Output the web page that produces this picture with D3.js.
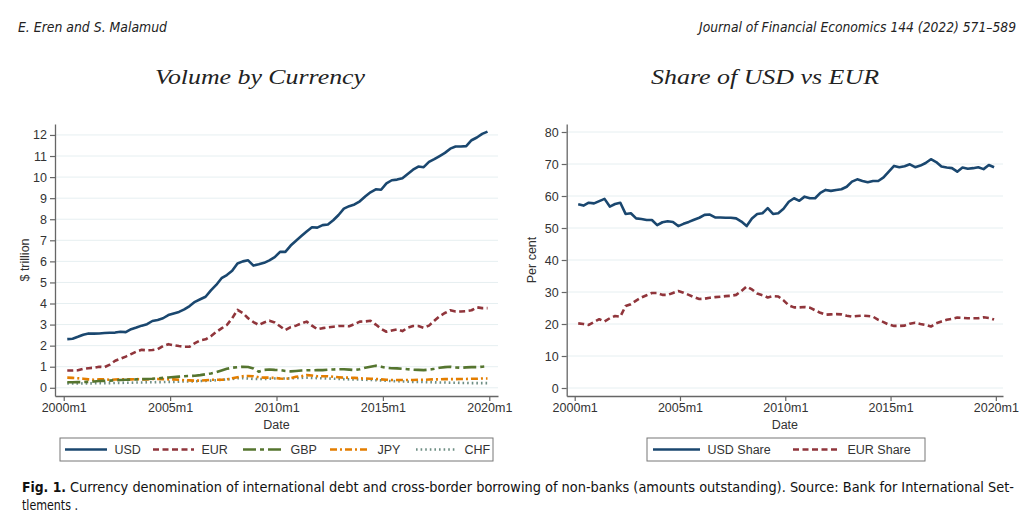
<!DOCTYPE html>
<html><head><meta charset="utf-8">
<script src="https://cdn.jsdelivr.net/npm/d3@7"></script>
<style>body{margin:0;background:#fff}svg{display:block}</style>
</head><body>
<svg id="c" width="1024" height="515"></svg>
<script>
// ---- DATA (quarterly, 2000m3 .. 2019m12) ----
const dates = d3.range(80).map(i => 2000 + (2 + 3 * i) / 12);
const usd = [2.31,2.33,2.42,2.52, 2.58,2.57,2.58,2.60, 2.61,2.62,2.66,2.64, 2.78,2.86,2.95,3.02,
  3.17,3.22,3.30,3.45, 3.53,3.60,3.72,3.88, 4.08,4.20,4.32,4.62, 4.88,5.20,5.35,5.55,
  5.90,6.00,6.05,5.80, 5.86,5.93,6.05,6.20, 6.45,6.45,6.75,6.98, 7.20,7.42,7.62,7.60,
  7.72,7.75,7.95,8.20, 8.50,8.62,8.70,8.85, 9.08,9.28,9.42,9.40, 9.70,9.85,9.88,9.95,
  10.15,10.35,10.50,10.47, 10.72,10.85,11.00,11.15, 11.35,11.45,11.45,11.47, 11.75,11.88,12.05,12.16];
const eur = [0.82,0.82,0.83,0.90, 0.93,0.95,1.00,0.98, 1.10,1.28,1.38,1.48, 1.60,1.72,1.80,1.78,
  1.79,1.83,1.98,2.07, 2.02,1.98,1.95,1.95, 2.12,2.25,2.30,2.45, 2.65,2.82,2.98,3.30,
  3.70,3.55,3.30,3.12, 2.98,3.10,3.18,3.10, 2.92,2.74,2.88,2.95, 3.05,3.14,2.95,2.78,
  2.83,2.87,2.90,2.93, 2.93,2.92,3.02,3.14, 3.15,3.18,3.00,2.80, 2.66,2.72,2.77,2.69,
  2.85,2.93,2.93,2.85, 2.95,3.18,3.40,3.55, 3.68,3.62,3.62,3.64, 3.68,3.82,3.78,3.78];
const gbp = [0.26,0.26,0.27,0.27, 0.28,0.30,0.32,0.33, 0.34,0.36,0.37,0.38, 0.39,0.40,0.41,0.42,
  0.43,0.45,0.47,0.49, 0.51,0.53,0.55,0.56, 0.57,0.60,0.64,0.68, 0.74,0.82,0.90,0.95,
  0.98,1.00,0.99,0.92, 0.76,0.85,0.87,0.85, 0.84,0.80,0.78,0.80, 0.82,0.83,0.83,0.84,
  0.84,0.86,0.87,0.88, 0.88,0.86,0.84,0.88, 0.95,1.00,1.05,1.00, 0.95,0.93,0.92,0.90,
  0.88,0.86,0.85,0.84, 0.86,0.90,0.95,0.98, 1.00,0.97,0.95,0.97, 0.98,0.98,1.00,1.02];
const jpy = [0.48,0.47,0.45,0.43, 0.40,0.38,0.40,0.40, 0.38,0.39,0.40,0.40, 0.40,0.41,0.40,0.40,
  0.42,0.42,0.41,0.40, 0.40,0.38,0.36,0.35, 0.34,0.34,0.36,0.38, 0.38,0.38,0.40,0.45,
  0.50,0.55,0.56,0.55, 0.50,0.48,0.48,0.47, 0.44,0.42,0.46,0.52, 0.55,0.60,0.58,0.55,
  0.55,0.55,0.52,0.50, 0.48,0.48,0.47,0.45, 0.44,0.43,0.42,0.40, 0.38,0.37,0.37,0.37,
  0.37,0.37,0.38,0.38, 0.39,0.40,0.40,0.41, 0.41,0.41,0.42,0.42, 0.43,0.43,0.44,0.44];
const chf = [0.20,0.20,0.20,0.21, 0.21,0.21,0.22,0.22, 0.22,0.23,0.23,0.24, 0.24,0.25,0.25,0.26,
  0.26,0.27,0.27,0.28, 0.28,0.29,0.30,0.30, 0.31,0.32,0.33,0.34, 0.36,0.38,0.40,0.42,
  0.45,0.46,0.44,0.42, 0.42,0.42,0.43,0.44, 0.44,0.44,0.45,0.46, 0.47,0.48,0.47,0.46,
  0.45,0.44,0.43,0.42, 0.41,0.40,0.40,0.39, 0.38,0.37,0.36,0.35, 0.33,0.32,0.31,0.30,
  0.29,0.28,0.28,0.27, 0.26,0.26,0.25,0.25, 0.24,0.24,0.23,0.23, 0.22,0.22,0.22,0.22];
const usdShare = [57.4,57.0,57.9,57.7, 58.4,59.1,56.7,57.5, 57.9,54.4,54.6,53.0, 52.8,52.5,52.5,50.9,
  51.8,52.1,51.9,50.6, 51.3,51.9,52.6,53.2, 54.1,54.2,53.3,53.3, 53.2,53.2,53.0,52.0,
  50.6,53.0,54.4,54.6, 56.2,54.4,54.6,56.0, 58.2,59.3,58.5,59.8, 59.3,59.3,61.0,61.9,
  61.6,61.9,62.1,62.9, 64.5,65.2,64.7,64.3, 64.7,64.7,65.8,67.6, 69.4,69.0,69.3,69.9,
  69.0,69.5,70.3,71.5, 70.6,69.2,68.9,68.7, 67.6,68.9,68.5,68.7, 69.0,68.4,69.7,69.0];
const eurShare = [20.2,20.0,19.7,20.6, 21.5,20.8,21.8,22.5, 22.3,25.6,26.2,27.3, 28.3,29.0,29.7,29.7,
  29.1,29.1,29.7,30.3, 29.8,29.1,28.4,27.8, 27.9,28.2,28.4,28.5, 28.7,28.8,29.1,30.3,
  31.7,30.8,29.5,29.0, 28.3,28.7,28.6,27.4, 25.8,25.2,25.2,25.3, 25.1,24.3,23.5,22.9,
  23.0,23.1,23.0,22.6, 22.3,22.5,22.6,22.5, 22.3,21.3,20.6,19.8, 19.4,19.4,19.5,20.1,
  20.4,20.0,19.7,19.2, 20.2,20.8,21.3,21.6, 22.0,21.9,21.8,21.8, 21.8,22.1,21.9,21.4];
const xTicks = [2000, 2005, 2010, 2015, 2020];
const yTicksLeft = d3.range(0, 13);
const yTicksRight = [0, 10, 20, 30, 40, 50, 60, 70, 80];

// ---- STYLE ----
const C = {usd:"#1a476f", eur:"#90353b", gbp:"#55752f", jpy:"#e37e00", chf:"#6e8e84"};
const DASH = {usd:null, eur:"6,3.5", gbp:"13,4,4,4", jpy:"7,3,2,3", chf:"1.6,3"};
const svg = d3.select("#c");
svg.append("rect").attr("width",1024).attr("height",515).attr("fill","#fff");
const sans = "'Liberation Sans', Arial, sans-serif";
const narrow = "'Liberation Sans Narrow','DejaVu Sans Condensed','Liberation Sans',sans-serif";
const FS = 12.5;

// header
svg.append("text").attr("x",18).attr("y",32).attr("font-family",narrow).attr("font-style","italic")
  .attr("font-size",13.5).attr("fill","#222").attr("textLength",149).attr("lengthAdjust","spacingAndGlyphs")
  .text("E. Eren and S. Malamud");
svg.append("text").attr("x",1016).attr("y",32).attr("text-anchor","end").attr("font-family",narrow).attr("font-style","italic")
  .attr("font-size",13.5).attr("fill","#222")
  .text("Journal of Financial Economics 144 (2022) 571–589")
  .each(function(){ this.setAttribute("textLength",317); this.setAttribute("lengthAdjust","spacingAndGlyphs"); });

function panel(o) {
  const g = svg.append("g");
  const x = d3.scaleLinear().domain(o.xd).range([o.x0, o.x1]);
  const y = d3.scaleLinear().domain(o.yd).range([o.yb, o.yt]);
  // grid
  g.selectAll(".grid").data(o.yticks).join("line")
    .attr("x1",o.x0).attr("x2",o.x1).attr("y1",d=>y(d)).attr("y2",d=>y(d))
    .attr("stroke","#e6eff1").attr("stroke-width",1);
  // axes
  const ya = g.append("g").attr("transform",`translate(${o.x0},0)`)
    .call(d3.axisLeft(y).tickValues(o.yticks).tickSize(5).tickSizeOuter(0).tickPadding(3));
  const xa = g.append("g").attr("transform",`translate(0,${o.yb})`)
    .call(d3.axisBottom(x).tickValues(xTicks).tickSize(5).tickSizeOuter(0).tickPadding(2).tickFormat(d=>d+"m1"));
  [ya,xa].forEach(a=>{
    a.select(".domain").attr("stroke","#666").attr("stroke-width",1.3);
    a.selectAll(".tick line").attr("stroke","#666").attr("stroke-width",1.2);
    a.selectAll(".tick text").attr("font-family",sans).attr("font-size",FS).attr("fill","#333");
  });
  // labels
  g.append("text").attr("x",(o.x0+o.x1)/2).attr("y",429).attr("text-anchor","middle")
    .attr("font-family",sans).attr("font-size",FS).attr("fill","#333").text("Date");
  g.append("text").attr("transform",`translate(${o.ylx},${(o.yt+o.yb)/2}) rotate(-90)`)
    .attr("text-anchor","middle").attr("font-family",sans).attr("font-size",FS).attr("fill","#333").text(o.ylabel);
  g.append("text").attr("x",o.tx).attr("y",84).attr("text-anchor","middle")
    .attr("font-family","'Liberation Serif','DejaVu Serif',serif").attr("font-style","italic")
    .attr("font-size",21).attr("fill","#222").attr("textLength",o.tw).attr("lengthAdjust","spacingAndGlyphs").text(o.title);
  // lines
  const line = d3.line().x((d,i)=>x(dates[i])).y(d=>y(d));
  o.series.slice().reverse().forEach(s=>{
    g.append("path").datum(s.v).attr("d",line).attr("fill","none")
      .attr("stroke",C[s.k]).attr("stroke-width",2.6).attr("stroke-linejoin","round")
      .attr("stroke-dasharray",DASH[s.k]);
  });
  // legend
  const lg = g.append("g");
  lg.append("rect").attr("x",o.lx0).attr("y",438).attr("width",o.lx1-o.lx0).attr("height",23)
    .attr("fill","#fff").attr("stroke","#777").attr("stroke-width",1);
  o.series.forEach(s=>{
    lg.append("line").attr("x1",s.l0).attr("x2",s.l1).attr("y1",449.5).attr("y2",449.5)
      .attr("stroke",C[s.k]).attr("stroke-width",2.6).attr("stroke-dasharray",DASH[s.k]);
    lg.append("text").attr("x",s.l1+7.5).attr("y",454).attr("font-family",sans).attr("font-size",FS)
      .attr("fill","#333").text(s.name);
  });
}

panel({xd:[1999.59,2020.41], x0:55, x1:498, yd:[-0.39,12.52], yb:396, yt:124, yticks:yTicksLeft,
  ylabel:"$ trillion", ylx:29, title:"Volume by Currency", tx:260, tw:210, lx0:60, lx1:493,
  series:[{k:"usd",v:usd,name:"USD",l0:65,l1:107},{k:"eur",v:eur,name:"EUR",l0:153,l1:194},
          {k:"gbp",v:gbp,name:"GBP",l0:243,l1:283},{k:"jpy",v:jpy,name:"JPY",l0:330,l1:370},
          {k:"chf",v:chf,name:"CHF",l0:416,l1:457}]});
panel({xd:[1999.62,2020.34], x0:566.7, x1:1003, yd:[-2.5,82.5], yb:396, yt:124, yticks:yTicksRight,
  ylabel:"Per cent", ylx:536, title:"Share of USD vs EUR", tx:765, tw:228, lx0:647, lx1:925,
  series:[{k:"usd",v:usdShare,name:"USD Share",l0:653,l1:700},{k:"eur",v:eurShare,name:"EUR Share",l0:793,l1:840}]});

// caption
svg.append("text").attr("x",22).attr("y",492).attr("font-family",narrow).attr("font-weight","bold")
  .attr("font-size",13.5).attr("fill","#111").attr("textLength",44).attr("lengthAdjust","spacingAndGlyphs").text("Fig. 1.");
svg.append("text").attr("x",70).attr("y",492).attr("font-family",narrow)
  .attr("font-size",13.5).attr("fill","#111").attr("textLength",944).attr("lengthAdjust","spacingAndGlyphs")
  .text("Currency denomination of international debt and cross-border borrowing of non-banks (amounts outstanding). Source: Bank for International Set-");
svg.append("text").attr("x",22).attr("y",510).attr("font-family",narrow)
  .attr("font-size",13.5).attr("fill","#111").attr("textLength",56).attr("lengthAdjust","spacingAndGlyphs").text("tlements .");
</script>
</body></html>
